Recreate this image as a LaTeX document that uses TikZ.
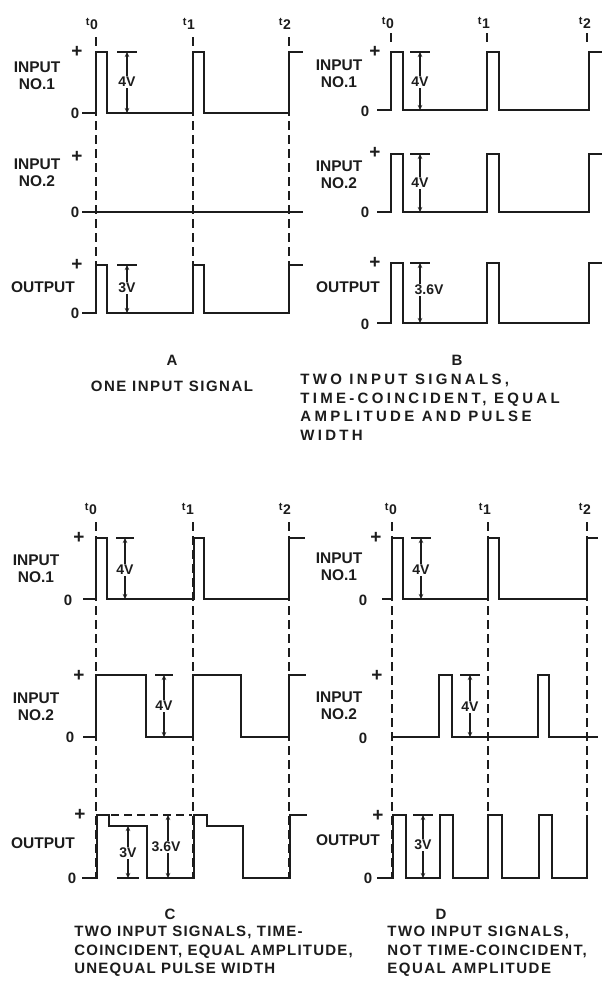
\documentclass[tikz,border=0pt]{standalone}
\usepackage{fontspec}
\setsansfont{Liberation Sans}
\usetikzlibrary{arrows.meta}
\definecolor{ink}{HTML}{1C1C1C}
\newcommand{\tlbl}[1]{\raisebox{4pt}{\fontsize{11}{11}\selectfont t}\kern0.6pt{\fontsize{14}{14}\selectfont #1}}

\begin{document}
\begin{tikzpicture}[x=1pt, y=-1pt, font=\sffamily\bfseries, line width=0.8pt,
  wave/.style={ink, line width=2.3pt},
  tmark/.style={ink, line width=1.7pt, dash pattern=on 9pt off 5pt},
  dimarrow/.style={ink, line width=1.1pt, {Stealth[length=5pt,width=4.5pt]}-{Stealth[length=5pt,width=4.5pt]}},
  dimbar/.style={ink, line width=1.3pt},
  lbl/.style={ink, font=\sffamily\bfseries\fontsize{15.5}{17}\selectfont, align=center, inner sep=0pt},
  sign/.style={ink, font=\sffamily\bfseries\fontsize{19}{19}\selectfont, inner sep=0pt},
  zero/.style={ink, font=\sffamily\bfseries\fontsize{15}{15}\selectfont, inner sep=0pt},
  volt/.style={ink, fill=white, inner sep=1pt, font=\sffamily\bfseries\fontsize{14}{14}\selectfont},
  tlab/.style={ink, inner sep=0pt},
  captext/.style={ink, font=\sffamily\bfseries\fontsize{15}{18.5}\selectfont\addfontfeatures{LetterSpace=#1},
    inner sep=0pt, align=left},
  captext/.default=10]
\useasboundingbox (0,0) rectangle (606,983);

% ---- A: one input signal
\foreach \x in {96,193,289}{\draw[tmark] (\x,37) -- (\x,313);}
\node[tlab] (tA0) at (92,24) {\tlbl{0}};
\node[tlab] (tA1) at (189,24) {\tlbl{1}};
\node[tlab] (tA2) at (285,24) {\tlbl{2}};
\draw[wave] (82,113) -- (96,113) -- (96,52) -- (107,52) -- (107,113) -- (193,113) -- (193,52)
  -- (204,52) -- (204,113) -- (289,113) -- (289,52) -- (303,52);
\draw[wave] (82,212) -- (303,212);
\draw[wave] (82,313) -- (96,313) -- (96,265) -- (107,265) -- (107,313) -- (193,313) -- (193,265)
  -- (204,265) -- (204,313) -- (289,313) -- (289,265) -- (303,265);
\draw[dimbar] (117,52) -- (137,52);
\draw[dimarrow] (127,52) -- (127,113);
\node[volt] (vA1) at (127,82) {4V};
\draw[dimbar] (117,265) -- (137,265);
\draw[dimarrow] (127,265) -- (127,313);
\node[volt] (vA3) at (127,288) {3V};
\node[lbl] (inA1) at (37,76) {INPUT\\NO.1};
\node[lbl] (inA2) at (37,173) {INPUT\\NO.2};
\node[lbl] (outA) at (43,287) {OUTPUT};
\node[sign] (pA1) at (77,52) {+};
\node[sign] (pA2) at (77,157) {+};
\node[sign] (pA3) at (77,265) {+};
\node[zero] (zA1) at (75,113) {0};
\node[zero] (zA2) at (75,212) {0};
\node[zero] (zA3) at (75,313) {0};
\node[captext] (capA) at (172,360) {A};
\node[captext] (txtA) at (172,386) {ONE INPUT SIGNAL};

% ---- B: two inputs, time-coincident
\foreach \x in {391,487,587}{\draw[tmark] (\x,33) -- (\x,43);}
\node[tlab] (tB0) at (388,23) {\tlbl{0}};
\node[tlab] (tB1) at (484,23) {\tlbl{1}};
\node[tlab] (tB2) at (585,23) {\tlbl{2}};
\draw[wave] (377,110) -- (391,110) -- (391,52) -- (403,52) -- (403,110) -- (487,110) -- (487,52)
  -- (499,52) -- (499,110) -- (589,110) -- (589,52) -- (602,52);
\draw[wave] (377,212) -- (391,212) -- (391,154) -- (403,154) -- (403,212) -- (487,212) -- (487,154)
  -- (499,154) -- (499,212) -- (589,212) -- (589,154) -- (602,154);
\draw[wave] (377,323) -- (391,323) -- (391,263) -- (403,263) -- (403,323) -- (487,323) -- (487,263)
  -- (499,263) -- (499,323) -- (589,323) -- (589,263) -- (602,263);
\draw[dimbar] (410,52) -- (430,52);
\draw[dimarrow] (420,52) -- (420,110);
\node[volt] (vB1) at (420,82) {4V};
\draw[dimbar] (410,154) -- (430,154);
\draw[dimarrow] (420,154) -- (420,212);
\node[volt] (vB2) at (420,183) {4V};
\draw[dimbar] (410,263) -- (430,263);
\draw[dimarrow] (420,263) -- (420,323);
\node[volt] (vB3) at (429,290) {3.6V};
\node[lbl] (inB1) at (339,74) {INPUT\\NO.1};
\node[lbl] (inB2) at (339,175) {INPUT\\NO.2};
\node[lbl] (outB) at (348,287) {OUTPUT};
\node[sign] (pB1) at (375,52) {+};
\node[sign] (pB2) at (375,153) {+};
\node[sign] (pB3) at (375,263) {+};
\node[zero] (zB1) at (365,111) {0};
\node[zero] (zB2) at (365,212) {0};
\node[zero] (zB3) at (365,324) {0};
\node[captext] (capB) at (457,360) {B};
\node[captext=22, anchor=north west] (txtB) at (300,374)
  {TWO INPUT SIGNALS,\\TIME-COINCIDENT, EQUAL\\AMPLITUDE AND PULSE\\WIDTH};

% ---- C: unequal pulse width
\foreach \x in {96,193,289}{\draw[tmark] (\x,522) -- (\x,878);}
\node[tlab] (tC0) at (91,509) {\tlbl{0}};
\node[tlab] (tC1) at (188,509) {\tlbl{1}};
\node[tlab] (tC2) at (285,509) {\tlbl{2}};
\draw[wave] (83,599) -- (96,599) -- (96,538) -- (107,538) -- (107,599) -- (194,599) -- (194,538)
  -- (204,538) -- (204,599) -- (289,599) -- (289,538) -- (305,538);
\draw[wave] (83,737) -- (96,737) -- (96,675) -- (146,675) -- (146,737) -- (193,737) -- (193,675)
  -- (241,675) -- (241,737) -- (289,737) -- (289,675) -- (306,675);
\draw[wave] (82,878) -- (97,878) -- (97,815) -- (109,815) -- (109,826) -- (147,826) -- (147,878)
  -- (194,878) -- (194,815) -- (207,815) -- (207,826) -- (243,826) -- (243,878) -- (290,878)
  -- (290,815) -- (307,815);
\draw[tmark, dash pattern=on 8pt off 5pt] (111,815) -- (192,815);
\draw[dimbar] (116,538) -- (134,538);
\draw[dimarrow] (125,538) -- (125,599);
\node[volt] (vC1) at (125,570) {4V};
\draw[dimbar] (155,675) -- (173,675);
\draw[dimarrow] (164,675) -- (164,737);
\node[volt] (vC2) at (164,706) {4V};
\draw[dimbar] (117,878) -- (139,878);
\draw[dimarrow] (128,826) -- (128,878);
\node[volt] (vC3) at (128,853) {3V};
\draw[dimarrow] (168,815) -- (168,878);
\node[volt] (vC4) at (166,847) {3.6V};
\node[lbl] (inC1) at (36,569) {INPUT\\NO.1};
\node[lbl] (inC2) at (36,707) {INPUT\\NO.2};
\node[lbl] (outC) at (43,843) {OUTPUT};
\node[sign] (pC1) at (79,538) {+};
\node[sign] (pC2) at (79,676) {+};
\node[sign] (pC3) at (80,815) {+};
\node[zero] (zC1) at (68,600) {0};
\node[zero] (zC2) at (70,737) {0};
\node[zero] (zC3) at (72,878) {0};
\node[captext] (capC) at (170,914) {C};
\node[captext=8, anchor=north west] (txtC) at (74,926)
  {TWO INPUT SIGNALS, TIME-\\COINCIDENT, EQUAL AMPLITUDE,\\UNEQUAL PULSE WIDTH};

% ---- D: not time-coincident
\foreach \x in {392,488,587}{\draw[tmark] (\x,522) -- (\x,878);}
\node[tlab] (tD0) at (391,509) {\tlbl{0}};
\node[tlab] (tD1) at (485,509) {\tlbl{1}};
\node[tlab] (tD2) at (585,509) {\tlbl{2}};
\draw[wave] (382,599) -- (392,599) -- (392,538) -- (403,538) -- (403,599) -- (488,599) -- (488,538)
  -- (499,538) -- (499,599) -- (587,599) -- (587,538) -- (598,538);
\draw[wave] (392,737) -- (439,737) -- (439,675) -- (452,675) -- (452,737) -- (538,737) -- (538,675)
  -- (549,675) -- (549,737) -- (598,737);
\draw[wave] (377,878) -- (393,878) -- (393,815) -- (406,815) -- (406,878) -- (440,878) -- (440,815)
  -- (453,815) -- (453,878) -- (488,878) -- (488,815) -- (502,815) -- (502,878) -- (539,878)
  -- (539,815) -- (552,815) -- (552,878) -- (587,878) -- (587,815);
\draw[dimbar] (411,538) -- (431,538);
\draw[dimarrow] (421,538) -- (421,599);
\node[volt] (vD1) at (421,570) {4V};
\draw[dimbar] (460,675) -- (480,675);
\draw[dimarrow] (470,675) -- (470,737);
\node[volt] (vD2) at (470,707) {4V};
\draw[dimbar] (413,815) -- (433,815);
\draw[dimarrow] (423,815) -- (423,878);
\node[volt] (vD3) at (423,845) {3V};
\node[lbl] (inD1) at (339,567) {INPUT\\NO.1};
\node[lbl] (inD2) at (339,706) {INPUT\\NO.2};
\node[lbl] (outD) at (348,840) {OUTPUT};
\node[sign] (pD1) at (376,538) {+};
\node[sign] (pD2) at (377,676) {+};
\node[sign] (pD3) at (378,816) {+};
\node[zero] (zD1) at (363,600) {0};
\node[zero] (zD2) at (363,738) {0};
\node[zero] (zD3) at (368,878) {0};
\node[captext] (capD) at (441,914) {D};
\node[captext, anchor=north west] (txtD) at (387,926)
  {TWO INPUT SIGNALS,\\NOT TIME-COINCIDENT,\\EQUAL AMPLITUDE};
\end{tikzpicture}
\end{document}
